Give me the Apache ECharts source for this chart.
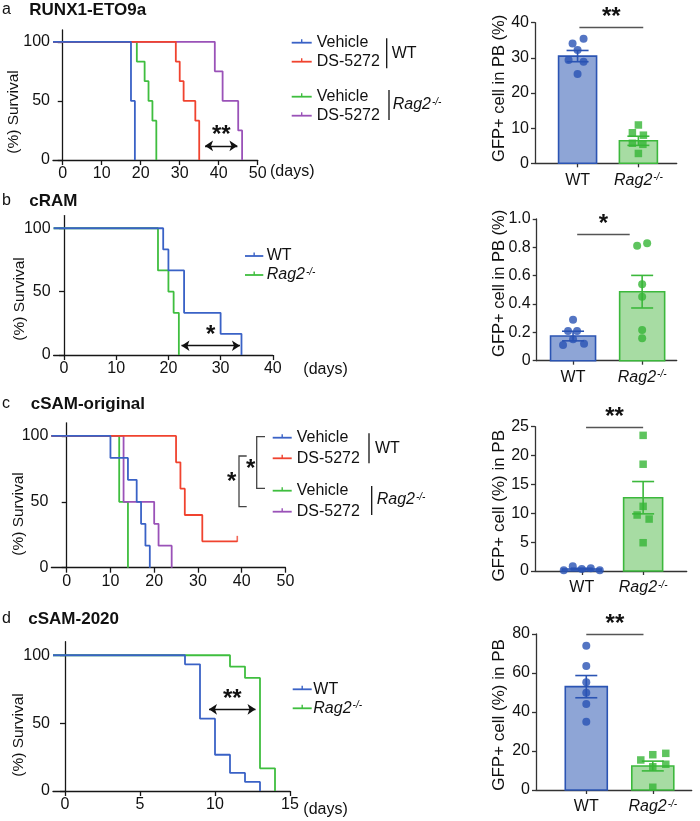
<!DOCTYPE html>
<html><head><meta charset="utf-8">
<script src="https://cdn.jsdelivr.net/npm/echarts@6/dist/echarts.min.js"></script>
<style>html,body{margin:0;padding:0;background:#fff}#chart{width:700px;height:821px}</style>
</head><body><div id="chart"></div>
<script>
// ================= DATA =================
// Survival curves: [day, % surviving after the step]
const a_vehicleWT   = [[17.5, 50], [18.5, 0]];
const a_ds5272WT    = [[29, 83.3], [30, 66.7], [31, 50], [34, 33.3], [35, 0]];
const a_vehicleRag2 = [[19, 83.3], [21, 66.7], [22, 50], [23, 33.3], [24, 0]];
const a_ds5272Rag2  = [[39, 75], [41, 50], [45, 25], [46, 0]];

const b_WT   = [[19, 83.3], [20, 66.7], [23, 33.3], [30, 16.7], [34, 0]];
const b_Rag2 = [[18, 66.7], [20, 50], [21, 33.3], [22, 0]];

const c_vehicleWT   = [[10, 83.3], [14, 66.7], [16, 50], [17, 33.3], [18, 16.7], [19, 0]];
const c_ds5272WT    = [[25, 80], [26, 60], [27, 40], [31, 20], [39, 20]];
const c_ds5272WTCensored = [[39, 20]];
const c_vehicleRag2 = [[12, 50], [14, 0]];
const c_ds5272Rag2  = [[13, 50], [20, 33.3], [21, 16.7], [24, 0]];

const d_WT   = [[8, 93.3], [9, 53.3], [10, 26.7], [11, 13.3], [12, 6.7], [13, 0]];
const d_Rag2 = [[11, 91.7], [12, 83.3], [13, 16.7], [14, 0]];

const survYTicks = [0, 50, 100];
const a_xTicks = [0, 10, 20, 30, 40, 50];
const b_xTicks = [0, 10, 20, 30, 40];
const c_xTicks = [0, 10, 20, 30, 40, 50];
const d_xTicks = [0, 5, 10, 15];

// significance arrows on survival plots: [fromDay, toDay, % level]
const a_sigArrow = [36.5, 44.8, 12];
const b_sigArrow = [22.5, 33.7, 7.3];
const d_sigArrow = [9.6, 12.7, 60.2];

// Bar charts: GFP+ cells in PB
const barCategories = ['WT', 'Rag2'];
const a_barMean = [30.5, 6.4];
const a_barSEM  = [1.6, 1.3];
const a_dotsWT   = [34.1, 35.4, 32.2, 29.4, 28.9, 25.4];
const a_dotsRag2 = [10.9, 8.7, 8.0, 5.7, 5.4, 2.8];

const b_barMean = [0.174, 0.487];
const b_barSEM  = [0.034, 0.115];
const b_dotsWT   = [0.289, 0.209, 0.209, 0.151, 0.111, 0.120];
const b_dotsRag2 = [0.812, 0.828, 0.539, 0.452, 0.216, 0.158];

const c_barMean = [0.35, 12.7];
const c_barSEM  = [0.13, 2.8];
const c_dotsWT   = [0.12, 0.81, 0.35, 0.46, 0.12];
const c_dotsRag2 = [23.5, 18.5, 11.2, 9.7, 9.0, 4.9];

const d_barMean = [53.0, 12.3];
const d_barSEM  = [5.7, 2.5];
const d_dotsWT   = [74.0, 63.6, 55.2, 49.9, 44.1, 35.0];
const d_dotsRag2 = [15.4, 18.1, 18.8, 11.9, 13.2, 1.4];

// significance bars: [fromX, toX, y]
const a_sigBar = [1.03, 2.08, 38.8];
const b_sigBar = [1.06, 1.82, 0.894];
const c_sigBar = [1.07, 2.0, 24.9];
const d_sigBar = [1.0, 1.86, 79.8];

// ================= LAYOUT / STYLE =================
const FONT = '"Liberation Sans", Arial, Helvetica, sans-serif';
const COL = {blue: '#3a62c6', red: '#f0432f', green: '#3fbe3f', purple: '#9a52b8'};
const BAR = {fillWT: '#8ea5d6', strokeWT: '#2b54b3', fillR: '#a7dca3', strokeR: '#3cb83c',
             dotWT: '#2953b4', dotR: '#36b536'};
const AX = '#161616';

const L = {
  sa: {left: 53, top: 30, width: 204.7, height: 130, xMin: -2.5, xMax: 50},
  sb: {left: 53.6, top: 215.6, width: 219.2, height: 139.4, xMin: -2, xMax: 40},
  sc: {left: 51.4, top: 422.8, width: 234, height: 144.9, xMin: -3.5, xMax: 50},
  sd: {left: 53, top: 641.7, width: 237, height: 149.3, xMin: -0.8, xMax: 15},
  ba: {left: 535, top: 22.7, width: 141.7, height: 140.6, xMin: 0.30, xMax: 2.63, barW: 38, yMax: 40, yInt: 10},
  bb: {left: 536.7, top: 219, width: 140, height: 141.7, xMin: 0.474, xMax: 2.5, barW: 45, yMax: 1.0, yInt: 0.2},
  bc: {left: 535, top: 426.7, width: 151.7, height: 144.3, xMin: 0.238, xMax: 2.71, barW: 39, yMax: 25, yInt: 5},
  bd: {left: 536, top: 634, width: 155.7, height: 156, xMin: 0.244, xMax: 2.585, barW: 42, yMax: 80, yInt: 20}
};
const jitter = {
  aWT: [-5, 6, 0, -9, 6, 0], aR: [0, -6, 5, -6, 4.5, 0],
  bWT: [0, -5, 4, 0, -10, 11], bR: [-5, 5, 0, 0, 0, 0],
  cWT: [-18, -9, 0, 9, 18], cR: [0, 0, 0, -6, 6, 0],
  dWT: [0, 0, 0, 0, 0, 0], dR: [-12, 0, 13, 0, 13, 0]
};

const grids = [], xAxes = [], yAxes = [], series = [], graphics = [];
const rag2Rich = {
  i: {fontStyle: 'italic', fontSize: 16, fontFamily: FONT, color: '#111'},
  s: {fontStyle: 'italic', fontSize: 10, fontFamily: FONT, color: '#111', verticalAlign: 'top', padding: [0, 0, 0, 1]}
};

function survival(lay, xTicks, lines, arrow, stars) {
  const i = grids.length;
  grids.push({left: lay.left, top: lay.top, width: lay.width, height: lay.height});
  xAxes.push({gridIndex: i, type: 'value', min: lay.xMin, max: lay.xMax,
    axisLine: {show: true, onZero: true, lineStyle: {color: AX, width: 1.3}},
    axisTick: {show: true, length: 5, customValues: xTicks, lineStyle: {color: AX, width: 1.3}},
    axisLabel: {customValues: xTicks, fontSize: 16, color: '#111', margin: 6, fontFamily: FONT},
    splitLine: {show: false}});
  yAxes.push({gridIndex: i, type: 'value', min: 0, max: 110,
    axisLine: {show: true, onZero: true, lineStyle: {color: AX, width: 1.3}},
    axisTick: {show: true, length: 5, customValues: survYTicks, lineStyle: {color: AX, width: 1.3}},
    axisLabel: {customValues: survYTicks, fontSize: 16, color: '#111', margin: 3, fontFamily: FONT},
    splitLine: {show: false}});
  lines.forEach((s, k) => {
    const ser = {type: 'line', xAxisIndex: i, yAxisIndex: i, step: 'end', showSymbol: false, symbol: 'none',
      silent: true, data: [[lay.xMin, 100]].concat(s.data),
      lineStyle: {color: s.color, width: 1.8}, itemStyle: {color: s.color}, z: 2 + k};
    if (k === lines.length - 1 && arrow) {
      ser.markLine = {silent: true, symbol: ['arrow', 'arrow'], symbolSize: 8, animation: false,
        lineStyle: {color: '#111', width: 1.3, type: 'solid'},
        label: {show: true, position: 'middle', formatter: stars, fontSize: 24, fontWeight: 'bold',
                color: '#111', fontFamily: FONT, distance: -2},
        data: [[{coord: [arrow[0], arrow[2]]}, {coord: [arrow[1], arrow[2]]}]]};
    }
    series.push(ser);
  });
  return i;
}

function barPanel(lay, means, sems, dotsWT, dotsR, jWT, jR, rSymbol, sig, stars, fmt) {
  const i = grids.length;
  const fills = [BAR.fillWT, BAR.fillR], strokes = [BAR.strokeWT, BAR.strokeR];
  grids.push({left: lay.left, top: lay.top, width: lay.width, height: lay.height});
  const catTicks = barCategories.map((c, k) => k + 1);
  xAxes.push({gridIndex: i, type: 'value', min: lay.xMin, max: lay.xMax,
    axisLine: {show: true, onZero: true, lineStyle: {color: '#333', width: 1.3}},
    axisTick: {show: true, length: 4, customValues: catTicks, lineStyle: {color: '#333', width: 1.3}},
    axisLabel: {customValues: catTicks, fontSize: 16, color: '#111', margin: 9, fontFamily: FONT, rich: rag2Rich,
      formatter: v => { const n = barCategories[Math.round(v) - 1]; return n === 'Rag2' ? '{i|Rag2}{s|-/-}' : n; }},
    splitLine: {show: false}});
  yAxes.push({gridIndex: i, type: 'value', min: 0, max: lay.yMax, interval: lay.yInt,
    axisLine: {show: true, lineStyle: {color: '#333', width: 1.3}},
    axisTick: {show: true, length: 4, lineStyle: {color: '#333', width: 1.3}},
    axisLabel: {fontSize: 16, color: '#111', margin: 6, fontFamily: FONT, formatter: fmt},
    splitLine: {show: false}});
  series.push({type: 'custom', xAxisIndex: i, yAxisIndex: i, silent: true, z: 2,
    data: means.map((m, k) => [k + 1, m]),
    renderItem: (params, api) => {
      const k = params.dataIndex, x = api.value(0), m = api.value(1);
      const top = api.coord([x, m]), base = api.coord([x, 0]);
      return {type: 'rect', shape: {x: top[0] - lay.barW / 2, y: top[1], width: lay.barW, height: base[1] - top[1]},
              style: {fill: fills[k], stroke: strokes[k], lineWidth: 1.6}};
    },
    markLine: {silent: true, symbol: 'none', animation: false,
      lineStyle: {color: '#555', width: 1.3, type: 'solid'},
      label: {show: true, position: 'middle', formatter: stars, fontSize: 24, fontWeight: 'bold',
              color: '#111', fontFamily: FONT, distance: -2},
      data: [[{coord: [sig[0], sig[2]]}, {coord: [sig[1], sig[2]]}]]}
  });
  series.push({type: 'custom', xAxisIndex: i, yAxisIndex: i, silent: true, z: 3,
    data: means.map((m, k) => [k + 1, m, sems[k]]),
    renderItem: (params, api) => {
      const k = params.dataIndex, x = api.value(0), m = api.value(1), s = api.value(2);
      const hi = api.coord([x, m + s]), lo = api.coord([x, m - s]);
      const cw = 11, st = {stroke: strokes[k], lineWidth: 1.6};
      return {type: 'group', children: [
        {type: 'line', shape: {x1: hi[0], y1: hi[1], x2: lo[0], y2: lo[1]}, style: st},
        {type: 'line', shape: {x1: hi[0] - cw, y1: hi[1], x2: hi[0] + cw, y2: hi[1]}, style: st},
        {type: 'line', shape: {x1: lo[0] - cw, y1: lo[1], x2: lo[0] + cw, y2: lo[1]}, style: st}]};
    }});
  series.push({type: 'scatter', xAxisIndex: i, yAxisIndex: i, silent: true, z: 4, symbol: 'circle', symbolSize: 8,
    itemStyle: {color: BAR.dotWT}, data: dotsWT.map((v, k) => ({value: [1, v], symbolOffset: [jWT[k], 0]}))});
  series.push({type: 'scatter', xAxisIndex: i, yAxisIndex: i, silent: true, z: 4, symbol: rSymbol,
    symbolSize: rSymbol === 'rect' ? 7.5 : 8,
    itemStyle: {color: BAR.dotR}, data: dotsR.map((v, k) => ({value: [2, v], symbolOffset: [jR[k], 0]}))});
}

// ---- survival panels ----
survival(L.sa, a_xTicks, [
  {data: a_vehicleRag2, color: COL.green}, {data: a_ds5272Rag2, color: COL.purple},
  {data: a_ds5272WT, color: COL.red}, {data: a_vehicleWT, color: COL.blue}], a_sigArrow, '**');
survival(L.sb, b_xTicks, [
  {data: b_Rag2, color: COL.green}, {data: b_WT, color: COL.blue}], b_sigArrow, '*');
const ic = survival(L.sc, c_xTicks, [
  {data: c_vehicleRag2, color: COL.green}, {data: c_ds5272Rag2, color: COL.purple},
  {data: c_ds5272WT, color: COL.red}, {data: c_vehicleWT, color: COL.blue}], null, '');
series.push({type: 'scatter', xAxisIndex: ic, yAxisIndex: ic, silent: true, z: 6, symbol: 'rect',
  symbolSize: [1.6, 6], symbolOffset: [0, -2.5], itemStyle: {color: COL.red}, data: c_ds5272WTCensored});
survival(L.sd, d_xTicks, [
  {data: d_Rag2, color: COL.green}, {data: d_WT, color: COL.blue}], d_sigArrow, '**');

// ---- bar panels ----
const intFmt = v => String(v);
barPanel(L.ba, a_barMean, a_barSEM, a_dotsWT, a_dotsRag2, jitter.aWT, jitter.aR, 'rect', a_sigBar, '**', intFmt);
barPanel(L.bb, b_barMean, b_barSEM, b_dotsWT, b_dotsRag2, jitter.bWT, jitter.bR, 'circle', b_sigBar, '*',
  v => v === 0 ? '0' : v.toFixed(1));
barPanel(L.bc, c_barMean, c_barSEM, c_dotsWT, c_dotsRag2, jitter.cWT, jitter.cR, 'rect', c_sigBar, '**', intFmt);
barPanel(L.bd, d_barMean, d_barSEM, d_dotsWT, d_dotsRag2, jitter.dWT, jitter.dR, 'rect', d_sigBar, '**', intFmt);

// ================= TEXT / ANNOTATIONS =================
function txt(x, y, text, o) {
  o = o || {};
  graphics.push({type: 'text', x: x, y: y, rotation: o.rot || 0, silent: true, z: 10,
    style: {text: text, fontSize: o.size || 16, fontWeight: o.bold ? 'bold' : 'normal',
      fontStyle: o.italic ? 'italic' : 'normal', fontFamily: FONT, fill: o.color || '#111',
      align: o.align || 'left', verticalAlign: 'middle', rich: o.rich}});
}
function seg(x1, y1, x2, y2, color, w) {
  graphics.push({type: 'line', silent: true, z: 10, shape: {x1: x1, y1: y1, x2: x2, y2: y2},
    style: {stroke: color || '#111', lineWidth: w || 1.3}});
}
function poly(pts, color) {
  graphics.push({type: 'polyline', silent: true, z: 10, shape: {points: pts},
    style: {stroke: color || '#444', lineWidth: 1.3, fill: null}});
}
function legendRow(x1, x2, y, color, label, tx) {
  seg(x1, y, x2, y, color, 1.8);
  seg((x1 + x2) / 2, y - 3.5, (x1 + x2) / 2, y, color, 1.4);
  txt(tx, y, label);
}
function rag2(x, y) {
  txt(x, y, '{i|Rag2}{s|-/-}', {rich: rag2Rich});
}

// panel titles
txt(2, 10, 'a'); txt(29.3, 10, 'RUNX1-ETO9a', {bold: true, size: 17});
txt(2, 201, 'b'); txt(29.3, 201, 'cRAM', {bold: true, size: 17});
txt(2, 404, 'c'); txt(30.7, 404, 'cSAM-original', {bold: true, size: 17});
txt(2, 619, 'd'); txt(28.3, 619, 'cSAM-2020', {bold: true, size: 17});

// y-axis titles
txt(14, 112, '(%) Survival', {rot: Math.PI / 2, align: 'center', size: 15.5});
txt(20, 299, '(%) Survival', {rot: Math.PI / 2, align: 'center', size: 15.5});
txt(19, 514, '(%) Survival', {rot: Math.PI / 2, align: 'center', size: 15.5});
txt(19, 735, '(%) Survival', {rot: Math.PI / 2, align: 'center', size: 15.5});
txt(499, 88.3, 'GFP+ cell in PB (%)', {rot: Math.PI / 2, align: 'center', size: 16.5});
txt(499, 283.3, 'GFP+ cell in PB (%)', {rot: Math.PI / 2, align: 'center', size: 16.5});
txt(499, 505.8, 'GFP+ cell (%) in PB', {rot: Math.PI / 2, align: 'center', size: 17});
txt(499, 715, 'GFP+ cell (%) in PB', {rot: Math.PI / 2, align: 'center', size: 17});

// (days)
txt(270, 172, '(days)'); txt(303.3, 370, '(days)'); txt(303.3, 810, '(days)');

// legend panel a
legendRow(291.7, 311.7, 42.7, COL.blue, 'Vehicle', 316.7);
legendRow(291.7, 311.7, 61.7, COL.red, 'DS-5272', 316.7);
seg(386.7, 38.3, 386.7, 68.3); txt(391.7, 53.3, 'WT');
legendRow(291.7, 311.7, 96.7, COL.green, 'Vehicle', 316.7);
legendRow(291.7, 311.7, 115.7, COL.purple, 'DS-5272', 316.7);
seg(389, 90, 389, 120); rag2(392.7, 105);

// legend panel b
legendRow(245, 263.3, 256, COL.blue, 'WT', 266.7);
seg(245, 275, 263.3, 275, COL.green, 1.8); seg(254.2, 271.5, 254.2, 275, COL.green, 1.4); rag2(266.7, 275);

// legend panel c
legendRow(272.7, 291.7, 437.7, COL.blue, 'Vehicle', 296.7);
legendRow(272.7, 291.7, 458.3, COL.red, 'DS-5272', 296.7);
seg(369, 433.3, 369, 463.3); txt(375, 448.3, 'WT');
legendRow(272.7, 291.7, 490.7, COL.green, 'Vehicle', 296.7);
legendRow(272.7, 291.7, 511.7, COL.purple, 'DS-5272', 296.7);
seg(371.7, 486, 371.7, 515); rag2(376.7, 500);
// brackets panel c
poly([[246.7, 456], [239, 456], [239, 506.7], [246.7, 506.7]]);
poly([[265, 436.7], [256.7, 436.7], [256.7, 488.3], [265, 488.3]]);
txt(231.7, 482, '*', {bold: true, size: 24, align: 'center'});
txt(250.7, 469, '*', {bold: true, size: 24, align: 'center'});

// legend panel d
legendRow(292.7, 311.7, 689.3, COL.blue, 'WT', 313.3);
seg(292.7, 708.3, 311.7, 708.3, COL.green, 1.8); seg(302.2, 704.8, 302.2, 708.3, COL.green, 1.4); rag2(313.3, 708.3);

const chart = echarts.init(document.getElementById('chart'), null, {renderer: 'canvas'});
chart.setOption({animation: false, textStyle: {fontFamily: FONT},
  grid: grids, xAxis: xAxes, yAxis: yAxes, series: series, graphic: graphics});
</script></body></html>
